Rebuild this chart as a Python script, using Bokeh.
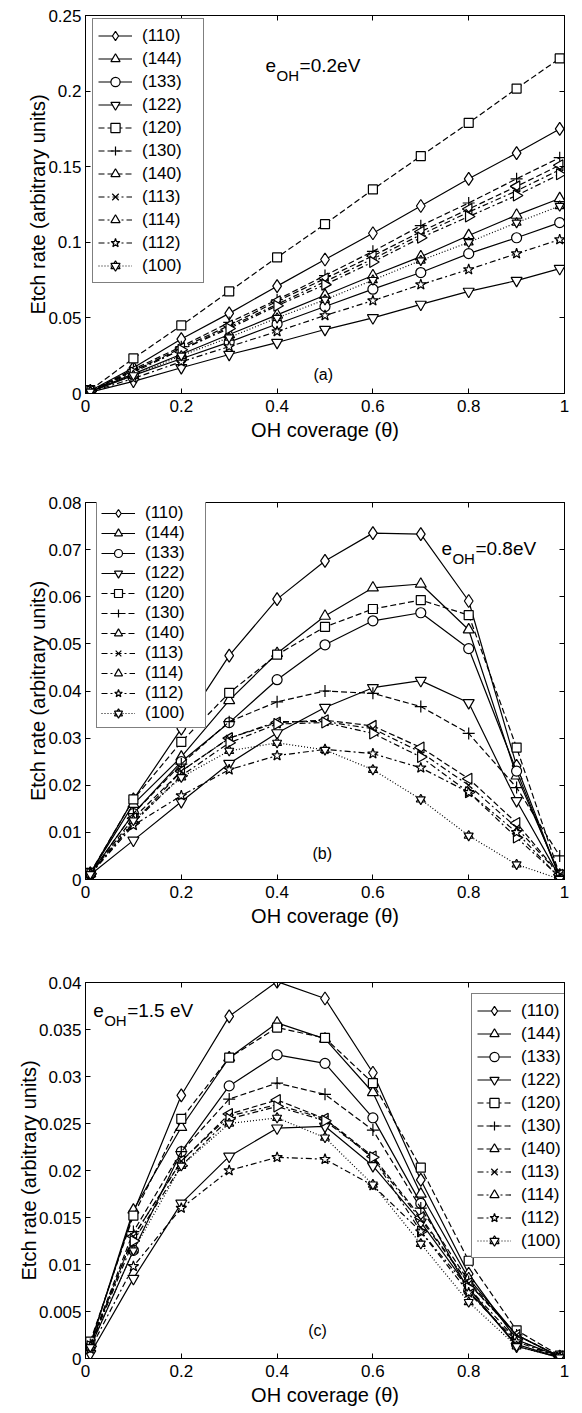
from bokeh.plotting import figure
from bokeh.models import Legend, LegendItem, LinearAxis, FixedTicker, Label, Range1d
from bokeh.layouts import column
from bokeh.embed import file_html
from bokeh.resources import INLINE

# ---------------- data ----------------
THETA = [0.01, 0.1, 0.2, 0.3, 0.4, 0.5, 0.6, 0.7, 0.8, 0.9, 0.99]
FACETS = ["(110)", "(144)", "(133)", "(122)", "(120)", "(130)", "(140)",
          "(113)", "(114)", "(112)", "(100)"]

X_TICKS = [0, 0.2, 0.4, 0.6, 0.8, 1]
X_TICK_LABELS = ["0", "0.2", "0.4", "0.6", "0.8", "1"]
A_Y_TICKS = [0, 0.05, 0.1, 0.15, 0.2, 0.25]
A_Y_TICK_LABELS = ["0", "0.05", "0.1", "0.15", "0.2", "0.25"]
B_Y_TICKS = [0, 0.01, 0.02, 0.03, 0.04, 0.05, 0.06, 0.07, 0.08]
B_Y_TICK_LABELS = ["0", "0.01", "0.02", "0.03", "0.04", "0.05", "0.06", "0.07", "0.08"]
C_Y_TICKS = [0, 0.005, 0.01, 0.015, 0.02, 0.025, 0.03, 0.035, 0.04]
C_Y_TICK_LABELS = ["0", "0.005", "0.01", "0.015", "0.02", "0.025", "0.03", "0.035", "0.04"]

# panel (a): e_OH = 0.2 eV
a_110 = [0.0018, 0.017, 0.036, 0.053, 0.071, 0.0886, 0.106, 0.124, 0.142, 0.159, 0.175]
a_144 = [0.0013, 0.013, 0.026, 0.039, 0.052, 0.065, 0.078, 0.0905, 0.1045, 0.118, 0.129]
a_133 = [0.0012, 0.012, 0.023, 0.034, 0.046, 0.0575, 0.069, 0.080, 0.0925, 0.103, 0.113]
a_122 = [0.0009, 0.008, 0.017, 0.0258, 0.0337, 0.0423, 0.050, 0.0589, 0.0675, 0.0747, 0.0826]
a_120 = [0.0022, 0.0232, 0.045, 0.0675, 0.090, 0.112, 0.135, 0.157, 0.179, 0.2017, 0.2216]
a_130 = [0.0016, 0.016, 0.031, 0.047, 0.062, 0.078, 0.094, 0.111, 0.126, 0.142, 0.156]
a_140 = [0.0015, 0.015, 0.030, 0.045, 0.061, 0.076, 0.091, 0.107, 0.122, 0.137, 0.151]
a_113 = [0.0015, 0.015, 0.029, 0.044, 0.059, 0.074, 0.089, 0.105, 0.120, 0.134, 0.148]
a_114 = [0.0014, 0.014, 0.029, 0.043, 0.058, 0.072, 0.087, 0.103, 0.117, 0.131, 0.145]
a_112 = [0.0010, 0.010, 0.021, 0.031, 0.041, 0.0516, 0.0614, 0.072, 0.082, 0.0925, 0.1018]
a_100 = [0.0012, 0.012, 0.025, 0.037, 0.050, 0.062, 0.075, 0.088, 0.100, 0.113, 0.124]

# panel (b): e_OH = 0.8 eV
b_110 = [0.0013, 0.017, 0.032, 0.0475, 0.0595, 0.0676, 0.0735, 0.0733, 0.0591, 0.0241, 0.0005]
b_144 = [0.0013, 0.016, 0.026, 0.038, 0.048, 0.0559, 0.0619, 0.0627, 0.053, 0.022, 0.001]
b_133 = [0.0012, 0.014, 0.025, 0.0333, 0.0424, 0.0498, 0.0549, 0.0566, 0.049, 0.023, 0.0005]
b_122 = [0.0010, 0.0083, 0.0165, 0.0246, 0.0311, 0.0365, 0.0407, 0.0422, 0.0375, 0.0167, 0.0005]
b_120 = [0.0014, 0.017, 0.0292, 0.0396, 0.0477, 0.0536, 0.0574, 0.0593, 0.0561, 0.028, 0.001]
b_130 = [0.0012, 0.014, 0.0245, 0.0335, 0.0377, 0.040, 0.0395, 0.0367, 0.031, 0.0195, 0.005]
b_140 = [0.0012, 0.013, 0.023, 0.030, 0.0333, 0.0338, 0.0326, 0.028, 0.0214, 0.012, 0.001]
b_113 = [0.0012, 0.012, 0.023, 0.030, 0.0335, 0.0335, 0.032, 0.027, 0.020, 0.011, 0.001]
b_114 = [0.0012, 0.012, 0.022, 0.029, 0.033, 0.0333, 0.031, 0.026, 0.0185, 0.0089, 0.0005]
b_112 = [0.0011, 0.0115, 0.0178, 0.0233, 0.0263, 0.0276, 0.0267, 0.0237, 0.0185, 0.010, 0.0003]
b_100 = [0.0011, 0.0125, 0.0217, 0.0273, 0.029, 0.0275, 0.0233, 0.017, 0.0093, 0.0032, 0.0001]

# panel (c): e_OH = 1.5 eV
c_110 = [0.0015, 0.0155, 0.028, 0.0364, 0.0401, 0.0383, 0.0304, 0.019, 0.009, 0.002, 0.0002]
c_144 = [0.0015, 0.0158, 0.0246, 0.032, 0.0357, 0.034, 0.0283, 0.0175, 0.0085, 0.0025, 0.0002]
c_133 = [0.0012, 0.0115, 0.022, 0.029, 0.0323, 0.0314, 0.0256, 0.0165, 0.0072, 0.0015, 0.0001]
c_122 = [0.0005, 0.0085, 0.0165, 0.0215, 0.0245, 0.0247, 0.0205, 0.0145, 0.0075, 0.0013, 0.0001]
c_120 = [0.0018, 0.0152, 0.0255, 0.032, 0.0352, 0.0341, 0.0293, 0.0203, 0.0104, 0.003, 0.0003]
c_130 = [0.0015, 0.0135, 0.022, 0.0276, 0.0293, 0.0281, 0.0243, 0.016, 0.0082, 0.0025, 0.0002]
c_140 = [0.0014, 0.013, 0.021, 0.026, 0.0275, 0.0255, 0.0215, 0.015, 0.008, 0.0025, 0.0002]
c_113 = [0.0014, 0.013, 0.021, 0.0258, 0.027, 0.0255, 0.0213, 0.0148, 0.008, 0.0025, 0.0002]
c_114 = [0.0013, 0.0125, 0.0205, 0.0255, 0.0268, 0.0253, 0.0214, 0.0135, 0.0075, 0.002, 0.0001]
c_112 = [0.0010, 0.0098, 0.016, 0.020, 0.0214, 0.0212, 0.0184, 0.0135, 0.007, 0.0018, 0.0001]
c_100 = [0.0012, 0.0115, 0.0205, 0.025, 0.0256, 0.0235, 0.0185, 0.0122, 0.006, 0.0013, 0.0001]

# ---------------- styles ----------------
FONT = "Liberation Sans"
HALF_PI = 1.5707963
# marker(s), angle, size, line dash
STYLE = [
    (["diamond"], 0, 13, "solid"),
    (["triangle"], 0, 11, "solid"),
    (["circle"], 0, 10, "solid"),
    (["inverted_triangle"], 0, 11, "solid"),
    (["square"], 0, 9, "6 3"),
    (["cross"], 0, 12, "6 3"),
    (["triangle"], HALF_PI, 11, "6 3"),
    (["x"], 0, 9, "6 3 2 3"),
    (["triangle"], -HALF_PI, 11, "6 3 2 3"),
    (["star"], 0, 11, "6 3 2 3"),
    (["triangle", "inverted_triangle"], 0, 9, "1 2"),
]


def make_panel(series, ymax, yticks, ylabels, height, top, bottom,
               leg_loc, leg_row, leg_pad, ann_pos, ann_text, tag_pos, tag):
    p = figure(width=582, height=height, x_range=Range1d(0, 1), y_range=Range1d(0, ymax),
               output_backend="svg", toolbar_location=None, title=None,
               min_border_left=85, min_border_right=18,
               min_border_top=top, min_border_bottom=bottom,
               border_fill_color=None)
    p.grid.visible = False
    p.outline_line_color = "black"
    p.outline_line_width = 1
    p.background_fill_color = "white"

    p.xaxis.ticker = FixedTicker(ticks=X_TICKS)
    p.xaxis.major_label_overrides = dict(zip(X_TICKS, X_TICK_LABELS))
    p.yaxis.ticker = FixedTicker(ticks=yticks)
    p.yaxis.major_label_overrides = dict(zip(yticks, ylabels))
    p.xaxis.axis_label = "OH coverage (\u03b8)"
    p.yaxis.axis_label = "Etch rate (arbitrary units)"
    for ax in (p.xaxis[0], p.yaxis[0]):
        ax.major_tick_in = 5
        ax.major_tick_out = 0
        ax.minor_tick_in = 0
        ax.minor_tick_out = 0
        ax.axis_line_color = "black"
        ax.major_tick_line_color = "black"
        ax.major_label_text_font = FONT
        ax.major_label_text_font_size = "17px"
        ax.major_label_text_color = "black"
        ax.axis_label_text_font = FONT
        ax.axis_label_text_font_size = "20px"
        ax.axis_label_text_font_style = "normal"
        ax.axis_label_text_color = "black"
    p.xaxis.major_label_standoff = 6
    p.xaxis.axis_label_standoff = 4
    p.yaxis.major_label_standoff = 4
    p.yaxis.axis_label_standoff = -4

    # box ticks on the top and right edges (drawn as label-free minor ticks)
    for place, ticks in (("above", X_TICKS), ("right", yticks)):
        ax = LinearAxis(ticker=FixedTicker(ticks=[], minor_ticks=ticks),
                        major_tick_in=0, major_tick_out=0,
                        minor_tick_in=5, minor_tick_out=0, axis_line_color="black",
                        minor_tick_line_color="black")
        p.add_layout(ax, place)

    items = []
    for label, ys, (markers, angle, size, dash) in zip(FACETS, series, STYLE):
        rends = [p.line(THETA, ys, line_color="black", line_width=1.2, line_dash=dash)]
        for m in markers:
            rends.append(p.scatter(THETA, ys, marker=m, size=size, angle=angle,
                                   line_color="black", line_width=1.2, fill_color="white"))
        items.append(LegendItem(label=label, renderers=rends))

    legend = Legend(items=items, location=leg_loc, label_text_font=FONT,
                    label_text_font_size="17px", label_text_color="black",
                    glyph_width=34, glyph_height=leg_row, label_height=20, label_width=56,
                    label_standoff=10, spacing=0, padding=leg_pad, margin=0,
                    border_line_color="black", border_line_width=1,
                    background_fill_color="white", background_fill_alpha=1.0,
                    level="overlay")
    p.add_layout(legend)

    ax_x, ax_y = ann_pos
    main, sub = ann_text
    p.add_layout(Label(x=ax_x, y=ax_y, text="e", text_font=FONT, text_font_size="19px",
                       text_baseline="middle", text_color="black"))
    p.add_layout(Label(x=ax_x, y=ax_y, x_offset=11, y_offset=-10, text=sub, text_font=FONT,
                       text_font_size="15px", text_baseline="middle", text_color="black"))
    p.add_layout(Label(x=ax_x, y=ax_y, x_offset=34, y_offset=0, text=main, text_font=FONT,
                       text_font_size="19px", text_baseline="middle", text_color="black"))
    p.add_layout(Label(x=tag_pos[0], y=tag_pos[1], text=tag, text_font=FONT,
                       text_font_size="16px", text_baseline="middle", text_color="black"))
    return p


pa = make_panel([a_110, a_144, a_133, a_122, a_120, a_130, a_140, a_113, a_114, a_112, a_100],
                0.25, A_Y_TICKS, A_Y_TICK_LABELS, 460, 15, 67,
                (7, 110), 23, 5, (0.376, 0.217), ("=0.2eV", "OH"), (0.476, 0.0126), "(a)")
pb = make_panel([b_110, b_144, b_133, b_122, b_120, b_130, b_140, b_113, b_114, b_112, b_100],
                0.08, B_Y_TICKS, B_Y_TICK_LABELS, 480, 42, 61,
                (11, 151), 20, 4, (0.743, 0.0703), ("=0.8eV", "OH"), (0.474, 0.0055), "(b)")
pc = make_panel([c_110, c_144, c_133, c_122, c_120, c_130, c_140, c_113, c_114, c_112, c_100],
                0.04, C_Y_TICKS, C_Y_TICK_LABELS, 470, 42, 52,
                (386, 100), 23, 5, (0.016, 0.037), ("=1.5 eV", "OH"), (0.465, 0.003), "(c)")

layout = column(pa, pb, pc, spacing=0)
open("out.html", "w").write(file_html(layout, INLINE))
